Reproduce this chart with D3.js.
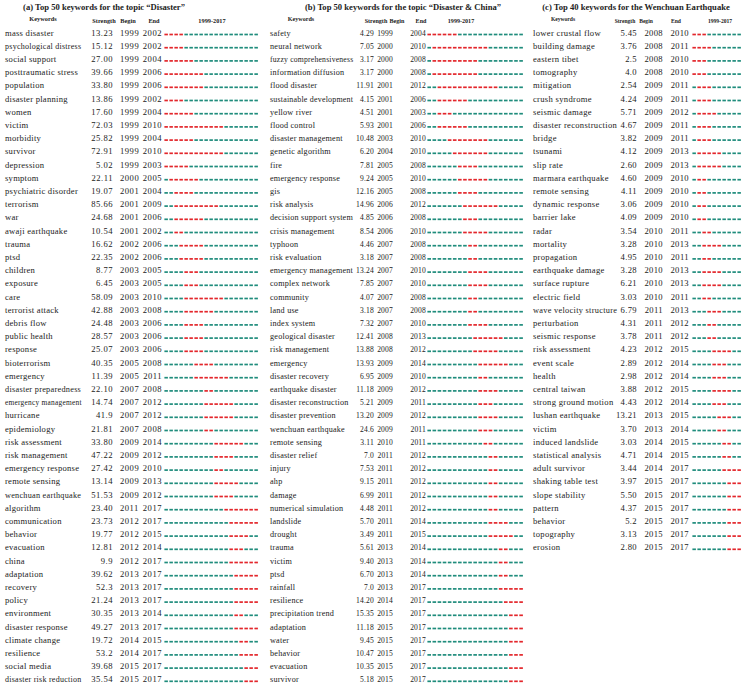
<!DOCTYPE html>
<html>
<head>
<meta charset="utf-8">
<script src="https://cdn.jsdelivr.net/npm/d3@7"></script>
<style>
  body { margin: 0; background: #fff; }
  svg { display: block; font-family: "Liberation Serif", "Times New Roman", serif; }
</style>
</head>
<body>
<svg id="chart" width="747" height="688"></svg>
<script>
// ---- data: panel (a) "Disaster" ----
const keywordsA = ["mass disaster","psychological distress","social support","posttraumatic stress","population","disaster planning","women","victim","morbidity","survivor","depression","symptom","psychiatric disorder","terrorism","war","awaji earthquake","trauma","ptsd","children","exposure","care","terrorist attack","debris flow","public health","response","bioterrorism","emergency","disaster preparedness","emergency management","hurricane","epidemiology","risk assessment","risk management","emergency response","remote sensing","wenchuan earthquake","algorithm","communication","behavior","evacuation","china","adaptation","recovery","policy","environment","disaster response","climate change","resilience","social media","disaster risk reduction"];
const strengthA = ["13.23","15.12","27.00","39.66","33.80","13.86","17.60","72.03","25.82","72.91","5.02","22.11","19.07","85.66","24.68","10.54","16.62","22.35","8.77","6.45","58.09","42.88","24.48","28.57","25.07","40.35","11.39","22.10","14.74","41.9","21.81","33.80","47.22","27.42","13.14","51.53","23.40","23.73","19.77","12.81","9.9","39.62","52.3","21.24","30.35","49.27","19.72","53.2","39.68","35.54"];
const beginA = [1999,1999,1999,1999,1999,1999,1999,1999,1999,1999,1999,2000,2001,2001,2001,2001,2002,2002,2003,2003,2003,2003,2003,2003,2003,2005,2005,2007,2007,2007,2007,2009,2009,2009,2009,2009,2011,2012,2012,2012,2012,2013,2013,2013,2013,2013,2014,2014,2015,2015];
const endA = [2002,2002,2004,2006,2006,2002,2004,2010,2004,2010,2003,2005,2004,2009,2006,2002,2006,2006,2005,2005,2010,2008,2006,2006,2006,2008,2011,2008,2012,2012,2008,2014,2012,2010,2013,2012,2017,2017,2015,2014,2017,2017,2017,2017,2014,2017,2015,2017,2017,2017];

// ---- data: panel (b) "Disaster & China" ----
const keywordsB = ["safety","neural network","fuzzy comprehensiveness","information diffusion","flood disaster","sustainable development","yellow river","flood control","disaster management","genetic algorithm","fire","emergency response","gis","risk analysis","decision support system","crisis management","typhoon","risk evaluation","emergency management","complex network","community","land use","index system","geological disaster","risk management","emergency","disaster recovery","earthquake disaster","disaster reconstruction","disaster prevention","wenchuan earthquake","remote sensing","disaster relief","injury","ahp","damage","numerical simulation","landslide","drought","trauma","victim","ptsd","rainfall","resilience","precipitation trend","adaptation","water","behavior","evacuation","survivor"];
const strengthB = ["4.29","7.05","3.17","3.17","11.91","4.15","4.51","5.93","10.48","6.20","7.81","9.24","12.16","14.96","4.85","8.54","4.46","3.18","13.24","7.85","4.07","3.18","7.32","12.41","13.88","13.93","6.95","11.18","5.21","13.20","24.6","3.11","7.0","7.53","9.15","6.99","4.48","5.70","3.49","5.61","9.40","6.70","7.0","14.20","15.35","11.18","9.45","10.47","10.35","5.18"];
const beginB = [1999,2000,2000,2000,2001,2001,2001,2001,2003,2004,2005,2005,2005,2006,2006,2006,2007,2007,2007,2007,2007,2007,2007,2008,2008,2009,2009,2009,2009,2009,2009,2010,2011,2011,2011,2011,2011,2011,2011,2013,2013,2013,2013,2014,2015,2015,2015,2015,2015,2015];
const endB = [2004,2010,2008,2008,2012,2006,2003,2006,2010,2010,2008,2010,2008,2012,2008,2010,2008,2008,2010,2010,2008,2008,2010,2013,2012,2014,2010,2012,2011,2012,2011,2011,2012,2012,2012,2012,2012,2014,2015,2014,2014,2014,2017,2017,2017,2017,2017,2017,2017,2017];

// ---- data: panel (c) Wenchuan Earthquake ----
const keywordsC = ["lower crustal flow","building damage","eastern tibet","tomography","mitigation","crush syndrome","seismic damage","disaster reconstruction","bridge","tsunami","slip rate","marmara earthquake","remote sensing","dynamic response","barrier lake","radar","mortality","propagation","earthquake damage","surface rupture","electric field","wave velocity structure","perturbation","seismic response","risk assessment","event scale","health","central taiwan","strong ground motion","lushan earthquake","victim","induced landslide","statistical analysis","adult survivor","shaking table test","slope stability","pattern","behavior","topography","erosion"];
const strengthC = ["5.45","3.76","2.5","4.0","2.54","4.24","5.71","4.67","3.82","4.12","2.60","4.60","4.11","3.06","4.09","3.54","3.28","4.95","3.28","6.21","3.03","6.79","4.31","3.78","4.23","2.89","2.98","3.88","4.43","13.21","3.70","3.03","4.71","3.44","3.97","5.50","4.37","5.2","3.13","2.80"];
const beginC = [2008,2008,2008,2008,2009,2009,2009,2009,2009,2009,2009,2009,2009,2009,2009,2010,2010,2010,2010,2010,2010,2011,2011,2011,2012,2012,2012,2012,2012,2013,2013,2014,2014,2014,2015,2015,2015,2015,2015,2015];
const endC = [2010,2011,2010,2010,2011,2011,2012,2011,2011,2013,2013,2010,2010,2010,2010,2011,2013,2011,2013,2013,2011,2013,2012,2012,2015,2014,2014,2015,2014,2015,2014,2015,2015,2017,2017,2017,2017,2017,2017,2017];

const titles = ["(a) Top 50 keywords for the topic \u201cDisaster\u201d",
                "(b) Top 50 keywords for the topic \u201cDisaster & China\u201d",
                "(c) Top 40 keywords for the Wenchuan Earthquake"];
const periodLabel = "1999-2017";
const yearSpanAB = [1999, 2017];
const yearSpanC = [2008, 2017];

const teal = "#1f8c7c", red = "#e3262b", ink = "#222";
const svg = d3.select("#chart");

// squeeze numbers horizontally by a factor
function squeeze(sel, factor) {
  if (factor >= 1) return;
  sel.each(function () {
    d3.select(this).attr("textLength", this.getComputedTextLength() * factor)
      .attr("lengthAdjust", "spacingAndGlyphs");
  });
}

// shrink the font of long keywords so they stay inside their column
function fitWidth(sel, maxW, size) {
  sel.each(function () {
    const w = this.getComputedTextLength();
    if (w > maxW) d3.select(this).style("font-size", (size * maxW / w).toFixed(2) + "px");
  });
}

function drawPanel(title, kw, str, beg, end, span, L) {
  const g = svg.append("g");
  const years = d3.range(span[0], span[1] + 1);
  const x = d3.scaleLinear().domain([span[0], span[1] + 1]).range([L.bar0, L.bar1]);
  const y = d3.scaleLinear().domain([0, 1]).range([35.5, 35.5 + 13.2]);
  const rows = kw.map((k, i) => ({ k, s: str[i], b: beg[i], e: end[i], i }));

  g.append("text").attr("x", L.title).attr("y", 10).attr("text-anchor", "middle")
    .style("font-weight", "bold").style("font-size", "8.6px").attr("fill", ink).text(title);

  const hdr = [["Keywords", L.hKw, 20.5], ["Strength", L.hStr, 23], ["Begin", L.hBeg, 23],
               ["End", L.hEnd, 23], [periodLabel, L.hPer, 23]];
  g.selectAll("text.hdr").data(hdr).join("text").attr("class", "hdr")
    .attr("x", d => d[1]).attr("y", d => d[2]).attr("text-anchor", "middle")
    .style("font-weight", "bold").style("font-size", L.hSize).attr("fill", ink).text(d => d[0]);

  const row = g.selectAll("g.row").data(rows).join("g").attr("class", "row")
    .attr("transform", d => `translate(0,${y(d.i)})`);

  row.append("text").attr("x", L.kw).attr("y", 0).style("font-size", L.kwSize + "px")
    .style("letter-spacing", L.ls).attr("fill", ink).text(d => d.k)
    .call(fitWidth, L.kwMax, L.kwSize);
  row.append("text").attr("x", L.str).attr("y", 0).attr("text-anchor", "end")
    .style("font-size", "8.6px").style("letter-spacing", L.nls).attr("fill", ink).text(d => d.s)
    .call(squeeze, L.numSq);
  row.append("text").attr("x", L.beg).attr("y", 0).attr("text-anchor", L.begAnchor)
    .style("font-size", "8.6px").style("letter-spacing", L.nls).attr("fill", ink).text(d => d.b)
    .call(squeeze, L.numSq);
  row.append("text").attr("x", L.end).attr("y", 0).attr("text-anchor", "end")
    .style("font-size", "8.6px").style("letter-spacing", L.nls).attr("fill", ink).text(d => d.e)
    .call(squeeze, L.numSq);

  // one dash per year, red inside the burst
  row.selectAll("line").data(d => years.map(yr => ({ yr, on: yr >= d.b && yr <= d.e })))
    .join("line")
      .attr("x1", d => x(d.yr) + 0.4)
      .attr("x2", d => x(d.yr + 1) - 1.1)
      .attr("y1", -1).attr("y2", -1)
      .attr("stroke", d => d.on ? red : teal)
      .attr("stroke-width", 1.7);
}

drawPanel(titles[0], keywordsA, strengthA, beginA, endA, yearSpanAB,
  { title: 104, hKw: 43, hStr: 104, hBeg: 128, hEnd: 154, hPer: 212, hSize: "6.3px",
    kw: 5, str: 113, beg: 120, begAnchor: "start", end: 162, bar0: 164, bar1: 259,
    kwSize: 8.6, ls: "0.25px", kwMax: 76, nls: "0.5px", numSq: 1 });
drawPanel(titles[1], keywordsB, strengthB, beginB, endB, yearSpanAB,
  { title: 403, hKw: 301, hStr: 376, hBeg: 397, hEnd: 421, hPer: 461, hSize: "6.1px",
    kw: 270, str: 374, beg: 393, begAnchor: "end", end: 426, bar0: 427, bar1: 524,
    kwSize: 8.2, ls: "0.2px", kwMax: 83, nls: "0.2px", numSq: 0.88 });
drawPanel(titles[2], keywordsC, strengthC, beginC, endC, yearSpanC,
  { title: 636, hKw: 563, hStr: 625, hBeg: 646, hEnd: 676, hPer: 720, hSize: "5.6px",
    kw: 533, str: 637, beg: 663, begAnchor: "end", end: 689, bar0: 692, bar1: 742,
    kwSize: 8.6, ls: "0.3px", kwMax: 84, nls: "0.35px", numSq: 1 });
</script>
</body>
</html>
